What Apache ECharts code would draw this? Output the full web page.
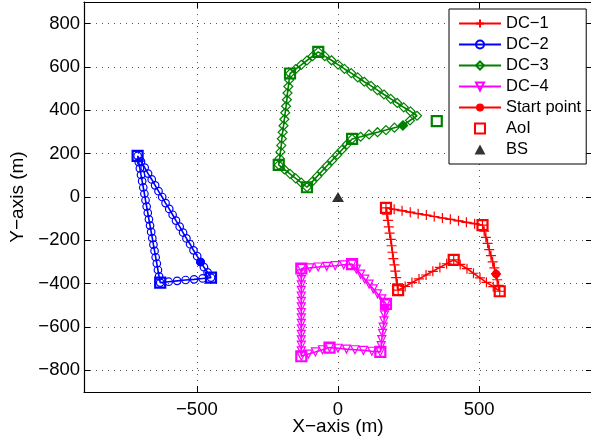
<!DOCTYPE html>
<html>
<head>
<meta charset="utf-8">
<script src="https://cdn.jsdelivr.net/npm/echarts@6/dist/echarts.min.js"></script>
<style>html,body{margin:0;padding:0;background:#fff}#chart{width:591px;height:447px}</style>
</head>
<body>
<div id="chart"></div>
<script>
// Tick positions
const xTicks = [-500, 0, 500];
const yTicks = [-800, -600, -400, -200, 0, 200, 400, 600, 800];

// Data collector trajectories (x, y in metres)
const dc1Track = [
  [560,-355],[554,-327],[548,-299],[542,-271],[536,-243],[530,-214],[524,-186],[518,-158],[512,-130],
  [484,-123],[455,-117],[427,-110],[398,-103],[370,-97],[341,-90],[313,-83],[284,-77],[256,-70],[227,-63],[199,-57],[170,-50],
  [173,-79],[177,-108],[180,-138],[183,-167],[187,-196],[190,-225],[193,-255],[196,-284],[200,-313],[203,-342],[206,-372],[210,-401],[213,-430],
  [238,-413],[262,-395],[287,-378],[312,-360],[336,-343],[361,-325],[385,-308],[410,-290],
  [433,-311],[457,-331],[480,-352],[503,-373],[526,-394],[550,-414],[573,-435],
  [569,-408],[564,-382],[560,-355]
];
const dc2Track = [
  [-487,-300],[-475,-324],[-462,-348],[-450,-372],
  [-480,-376],[-510,-380],[-540,-383],[-570,-387],[-600,-391],[-630,-395],
  [-634,-366],[-638,-337],[-642,-307],[-646,-278],[-650,-249],[-654,-220],[-658,-190],[-662,-161],[-666,-132],[-670,-103],
  [-674,-73],[-678,-44],[-682,-15],[-686,15],[-690,44],[-694,73],[-698,102],[-702,132],[-706,161],[-710,190],
  [-698,163],[-685,136],[-673,108],[-660,81],[-648,54],[-636,27],[-623,0],[-611,-28],[-598,-55],[-586,-82],
  [-574,-109],[-561,-137],[-549,-164],[-537,-191],[-524,-218],[-512,-246],[-499,-273],[-487,-300]
];
const dc3Track = [
  [230,330],[200,320],[170,309],[140,299],[110,289],[80,278],[50,268],
  [32,243],[14,218],[-3,194],[-21,169],[-39,144],[-57,119],[-74,95],[-92,70],[-110,45],
  [-130,66],[-150,86],[-170,107],[-190,127],[-210,148],
  [-207,178],[-204,208],[-201,238],[-199,269],[-196,299],[-193,329],[-190,359],[-187,389],[-184,419],[-181,449],
  [-179,480],[-176,510],[-173,540],[-170,570],
  [-150,590],[-130,610],[-110,630],[-90,650],[-70,670],
  [-47,650],[-23,631],[0,611],[23,591],[47,572],[70,552],[93,532],[117,513],[140,493],[163,473],[187,453],[210,434],
  [233,414],[257,395],[280,375],
  [255,353],[230,330]
];
const dc4Track = [
  [168,-515],[165,-544],[163,-572],[160,-601],[158,-629],[155,-658],[153,-686],[150,-715],
  [120,-712],[90,-708],[60,-705],[30,-702],[0,-698],[-30,-695],
  [-55,-705],[-80,-715],[-105,-725],[-130,-735],
  [-130,-710],[-130,-684],[-130,-659],[-130,-634],[-130,-608],[-130,-583],[-130,-558],[-130,-533],
  [-130,-507],[-130,-482],[-130,-457],[-130,-431],[-130,-406],[-130,-381],[-130,-355],[-130,-330],
  [-100,-327],[-70,-323],[-40,-320],[-10,-317],[20,-313],[50,-310],
  [65,-333],[80,-356],[95,-379],[110,-402],[125,-424],[140,-447],[155,-470],[170,-493],
  [168,-515]
];

// Areas of interest assigned to each collector
const aoiDC1 = [[170,-50],[512,-130],[573,-435],[410,-290],[213,-430]];
const aoiDC2 = [[-710,190],[-630,-395],[-450,-372]];
const aoiDC3 = [[-70,670],[-170,570],[-210,148],[-110,45],[50,268],[350,350]];
const aoiDC4 = [[-130,-330],[50,-310],[170,-493],[150,-715],[-30,-695],[-130,-735]];

// Start positions of the collectors
const startDC1 = [[560,-355]];
const startDC2 = [[-487,-300]];
const startDC3 = [[230,330]];
const startDC4 = [[168,-515]];

// Base station
const bsPos = [[0,0]];

const FONT = '"Liberation Sans", Arial, Helvetica, sans-serif';
const RED = '#ff0000', BLUE = '#0000ff', GREEN = '#008000', MAGENTA = '#ff00ff';
const CLEAR = 'rgba(0,0,0,0)';
const minus = v => String(v).replace('-', '\u2212');

// Square and upward triangle as paths so the legend keeps their proportions
const SQUARE = 'path://M0,0H10V10H0Z';
const UP_TRIANGLE = 'path://M6,0L12,11H0Z';

function track(name, data, color, symbol, size, rotate) {
  return {
    name, type: 'line', data, symbol, symbolSize: size, symbolRotate: rotate || 0,
    showAllSymbol: true, z: 2,
    lineStyle: { color, width: 1.6 },
    itemStyle: { color: CLEAR, borderColor: color, borderWidth: 1.2 }
  };
}
function aoi(name, data, color) {
  return {
    name, type: 'scatter', data, symbol: SQUARE, symbolSize: 10, symbolKeepAspect: true, z: 3,
    itemStyle: { color: CLEAR, borderColor: color, borderWidth: 2.2, opacity: 1 }
  };
}
function start(name, data, color, symbol, size, rotate) {
  return {
    name, type: 'line', data, symbol, symbolSize: size, symbolRotate: rotate || 0, z: 4,
    lineStyle: { color, width: 1.6 },
    itemStyle: { color, borderColor: color, borderWidth: 0 }
  };
}

const axisLineStyle = { color: '#000', width: 1.2 };
const gridLine = { show: true, lineStyle: { color: '#555', width: 1, type: [1, 5] } };
const nameStyle = { color: '#000', fontSize: 19, fontFamily: FONT };

const chart = echarts.init(document.getElementById('chart'), null, { renderer: 'canvas' });
chart.setOption({
  animation: false,
  backgroundColor: '#fff',
  grid: { left: 84, top: 2, width: 508, height: 390, outerBoundsMode: 'none', containLabel: false },
  legend: {
    data: [
      'DC\u22121', 'DC\u22122', 'DC\u22123', 'DC\u22124', 'Start point',
      { name: 'AoI', icon: SQUARE },
      { name: 'BS', icon: UP_TRIANGLE }
    ],
    orient: 'vertical', left: 449, top: 9,
    padding: [6, 5, 6, 9], itemGap: 4, itemWidth: 42, itemHeight: 10,
    symbolKeepAspect: true,
    backgroundColor: '#fff', borderColor: '#000', borderWidth: 1, borderRadius: 0,
    selectedMode: false,
    textStyle: { color: '#000', fontSize: 16.5, fontFamily: FONT, padding: [0, 0, 0, 0] }
  },
  xAxis: [{
    type: 'value', min: -900, max: 900, position: 'bottom',
    name: 'X\u2212axis (m)', nameLocation: 'middle', nameGap: 25, nameTextStyle: nameStyle, nameMoveOverlap: false,
    axisLine: { show: true, onZero: false, lineStyle: axisLineStyle },
    axisTick: { show: true, inside: true, length: 6, customValues: xTicks, lineStyle: { color: '#000' } },
    axisLabel: { customValues: xTicks, formatter: minus, color: '#000', fontSize: 18.5, fontFamily: FONT, margin: 8 },
    splitLine: gridLine
  }, {
    type: 'value', min: -900, max: 900, position: 'top',
    axisLine: { show: true, onZero: false, lineStyle: axisLineStyle },
    axisTick: { show: true, inside: true, length: 6, customValues: xTicks, lineStyle: { color: '#000' } },
    axisLabel: { show: false }, splitLine: { show: false }
  }],
  yAxis: [{
    type: 'value', min: -900, max: 900, position: 'left',
    name: 'Y\u2212axis (m)', nameLocation: 'middle', nameGap: 57, nameTextStyle: nameStyle, nameMoveOverlap: false,
    axisLine: { show: true, onZero: false, lineStyle: axisLineStyle },
    axisTick: { show: true, inside: true, length: 6, customValues: yTicks, lineStyle: { color: '#000' } },
    axisLabel: { customValues: yTicks, formatter: minus, color: '#000', fontSize: 18.5, fontFamily: FONT, margin: 4 },
    splitLine: gridLine
  }, {
    type: 'value', min: -900, max: 900, position: 'right',
    axisLine: { show: true, onZero: false, lineStyle: axisLineStyle },
    axisTick: { show: true, inside: true, length: 6, customValues: yTicks, lineStyle: { color: '#000' } },
    axisLabel: { show: false }, splitLine: { show: false }
  }],
  series: [
    track('DC\u22121', dc1Track, RED, 'path://M0,5L10,5M5,0L5,10', 10),
    track('DC\u22122', dc2Track, BLUE, 'circle', 7.5),
    track('DC\u22123', dc3Track, GREEN, 'diamond', 9),
    track('DC\u22124', dc4Track, MAGENTA, 'triangle', 8, 180),
    start('Start point', startDC1, RED, 'circle', 8.5),
    start('start-2', startDC2, BLUE, 'circle', 8.5),
    start('start-3', startDC3, GREEN, 'diamond', 9.5),
    start('start-4', startDC4, MAGENTA, 'triangle', 8.5, 180),
    aoi('AoI', aoiDC1, RED),
    aoi('aoi-2', aoiDC2, BLUE),
    aoi('aoi-3', aoiDC3, GREEN),
    aoi('aoi-4', aoiDC4, MAGENTA),
    {
      name: 'BS', type: 'scatter', data: bsPos, symbol: UP_TRIANGLE, symbolSize: [12, 11], symbolKeepAspect: true, z: 4,
      itemStyle: { color: '#000' }
    }
  ]
});
</script>
</body>
</html>
